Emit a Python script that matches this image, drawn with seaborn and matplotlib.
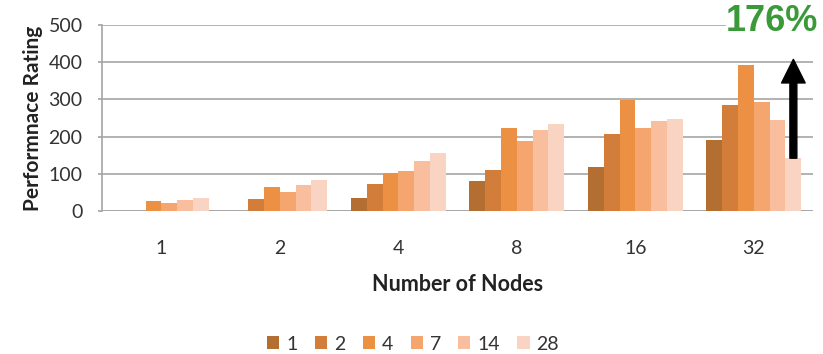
import seaborn as sns
import pandas as pd
import numpy as np
import matplotlib
matplotlib.use("Agg")
import matplotlib.pyplot as plt

nodes = ["1", "2", "4", "8", "16", "32"]
series = ["1", "2", "4", "7", "14", "28"]
# one list per series, one value per node count (nan = no bar)
vals_1 = [np.nan, np.nan, 34, 81, 118, 192]
vals_2 = [np.nan, 31, 72, 111, 207, 284]
vals_4 = [26, 64, 102, 223, 298, 393]
vals_7 = [22, 50, 108, 188, 223, 293]
vals_14 = [29, 69, 134, 217, 241, 245]
vals_28 = [34, 83, 155, 235, 247, 142]
gain_label = "176%"

colors = ["#B36E32", "#D27E3A", "#EC9144", "#F5A56E", "#F8BE9E", "#FAD4C2"]

rows = []
for s, v in zip(series, [vals_1, vals_2, vals_4, vals_7, vals_14, vals_28]):
    for n, y in zip(nodes, v):
        rows.append({"nodes": n, "series": s, "rating": y})
df = pd.DataFrame(rows)

sns.set_theme(style="white")
plt.rcParams["font.family"] = ["Lato", "DejaVu Sans"]

fig = plt.figure(figsize=(8.23, 3.54), dpi=100)
ax = fig.add_axes([0.124, 0.404, 0.864, 0.525])

sns.barplot(data=df, x="nodes", y="rating", hue="series", order=nodes,
            hue_order=series, palette=colors, saturation=1, width=0.8,
            edgecolor="none", linewidth=0, ax=ax)

ax.set_ylim(0, 500)
ax.set_yticks(range(0, 501, 100))
ax.yaxis.grid(True, color="#A6A6A6", linewidth=1.2)
ax.set_axisbelow(True)
for side in ["top", "right", "bottom"]:
    ax.spines[side].set_visible(False)
ax.spines["left"].set_color("#A6A6A6")
ax.spines["left"].set_linewidth(1.2)
ax.tick_params(axis="y", left=True, length=3, color="#A6A6A6", pad=11,
               labelsize=14, labelcolor="#333333")
ax.tick_params(axis="x", bottom=False, pad=15, labelsize=14, labelcolor="#333333")
ax.axhline(0, color="#A6A6A6", linewidth=1.2, zorder=0.5)

ax.set_xlabel("Number of Nodes", fontsize=15.5, fontweight="bold", color="#222222", labelpad=12)
ax.set_ylabel("Performnace Rating", fontsize=15, fontweight="bold", color="#222222", labelpad=4)

# arrow above the last bar
last = ax.containers[-1][-1]
bx = last.get_x() + last.get_width() / 2
ax.annotate("", xy=(bx, 408), xytext=(bx, last.get_height()),
            arrowprops=dict(facecolor="black", edgecolor="black", width=5,
                            headwidth=17, headlength=17, shrink=0))
ax.text(bx - 0.18, 511, gain_label, color="#3A9A3A", fontsize=26,
        fontweight="bold", family=["Liberation Sans", "DejaVu Sans"],
        ha="center", va="center", clip_on=False,
        bbox=dict(facecolor="white", edgecolor="none", pad=0))

ax.legend(loc="center", bbox_to_anchor=(0.502, 0.028), bbox_transform=fig.transFigure,
          ncol=6, frameon=False, fontsize=14, handlelength=0.62, handleheight=0.62,
          handletextpad=0.36, columnspacing=0.9, labelcolor="#333333",
          borderpad=0, borderaxespad=0)
ax.set_title("")

fig.savefig("out.png", dpi=100)
